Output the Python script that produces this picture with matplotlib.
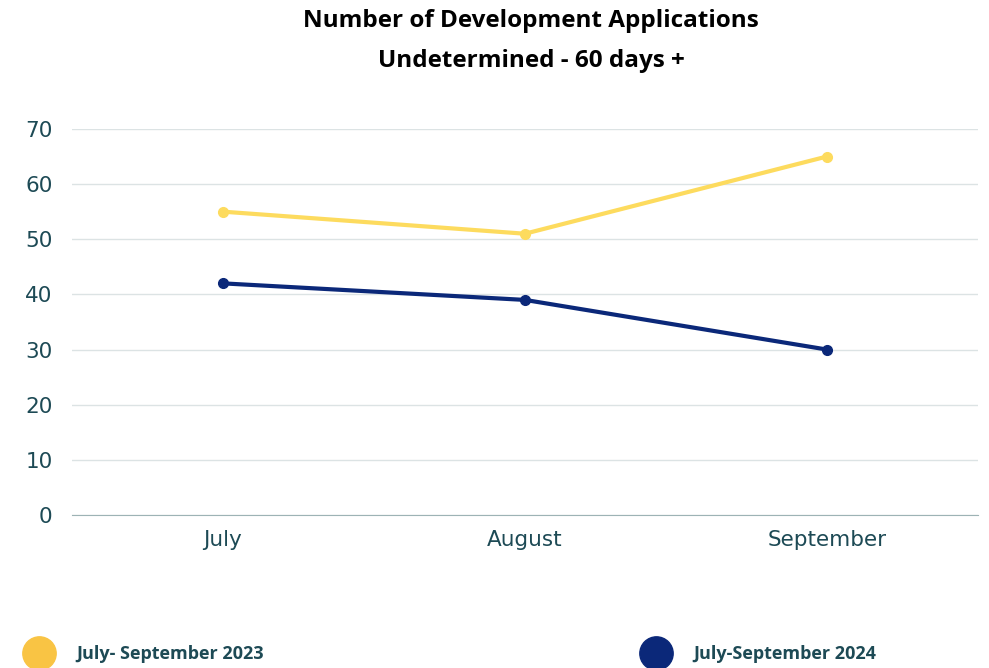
import matplotlib.pyplot as plt
from matplotlib.lines import Line2D

months = ['July', 'August', 'September']
series_2023 = [55, 51, 65]
series_2024 = [42, 39, 30]
label_2023 = 'July- September 2023'
label_2024 = 'July-September 2024'

yellow = '#FDDB5E'
yellow_dot = '#F9C444'
navy = '#0B2879'
text_col = '#1D4A55'

fig = plt.figure(figsize=(9.89, 6.68), dpi=100)
ax = fig.add_axes([0.0728, 0.229, 0.916, 0.578])

x = range(len(months))
ax.plot(x, series_2023, '-o', color=yellow, lw=3, ms=7, solid_capstyle='round')
ax.plot(x, series_2024, '-o', color=navy, lw=3, ms=7, solid_capstyle='round')

ax.set_xlim(-0.5, 2.5)
ax.set_ylim(0, 70)
ax.set_yticks(range(0, 71, 10))
ax.set_xticks(list(x))
ax.set_xticklabels(months)
ax.grid(axis='y', color='#DCE3E4', lw=1)
ax.set_axisbelow(True)
for s in ['top', 'right', 'left']:
    ax.spines[s].set_visible(False)
ax.spines['bottom'].set_color('#9DB3B5')
ax.tick_params(length=0, labelsize=15.5, labelcolor=text_col, pad=11)
ax.tick_params(axis='y', pad=14)
for lab in ax.get_xticklabels() + ax.get_yticklabels():
    lab.set_family('DejaVu Sans')

fig.text(0.537, 0.968, 'Number of Development Applications', ha='center', va='center',
         fontsize=17.5, fontweight='bold', family='Open Sans', color='black')
fig.text(0.537, 0.908, 'Undetermined - 60 days +', ha='center', va='center',
         fontsize=17.5, fontweight='bold', family='Open Sans', color='black')

h1 = Line2D([], [], marker='o', ls='none', color=yellow_dot, ms=24)
h2 = Line2D([], [], marker='o', ls='none', color=navy, ms=24)
for h, lab, xpos in [(h1, label_2023, 0.008), (h2, label_2024, 0.632)]:
    leg = fig.legend([h], [lab], loc='center left', bbox_to_anchor=(xpos, 0.021),
                     frameon=False, handletextpad=1.3, handlelength=1.6,
                     prop={'family': 'Open Sans', 'weight': 'bold', 'size': 13})
    for t in leg.get_texts():
        t.set_color(text_col)

fig.savefig('out.png', dpi=100)
